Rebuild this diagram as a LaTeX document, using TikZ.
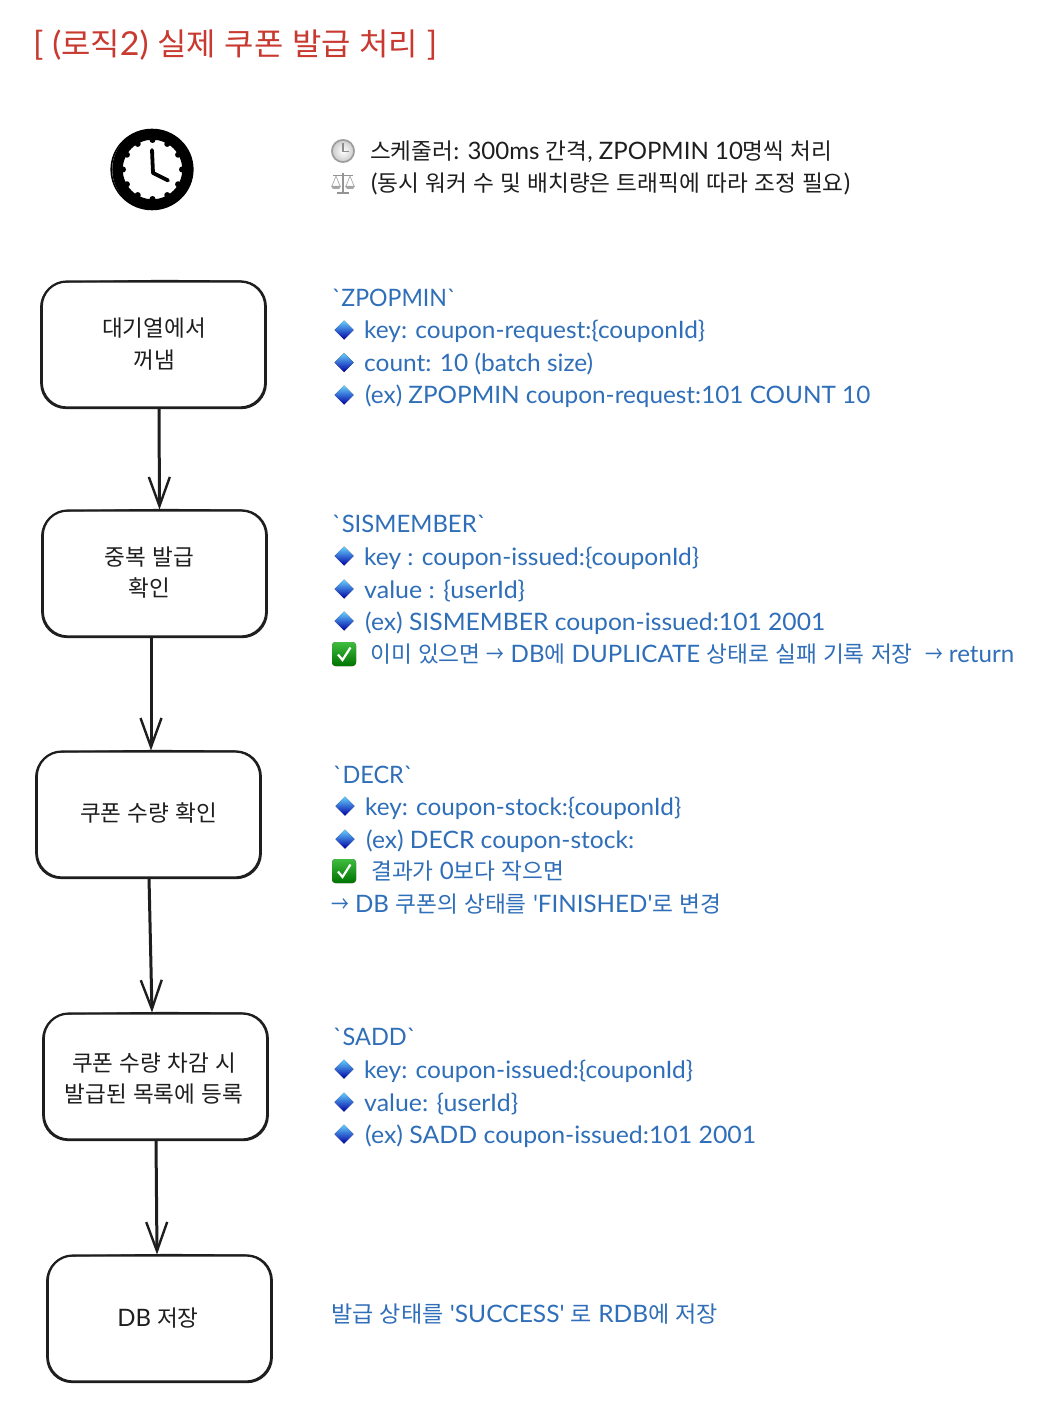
\documentclass[tikz,border=0pt]{standalone}
\usepackage{fontspec}
\usepackage{graphicx}
\usetikzlibrary{arrows.meta,calc}
\newfontfamily\latfont{Lato}
\newfontfamily\krfont{Noto Sans CJK KR}[Scale=0.94]
\XeTeXinterchartokenstate=1
\newXeTeXintercharclass\krclass
\newcount\krc \krc="AC00
\loop \XeTeXcharclass\krc=\krclass \advance\krc by 1 \ifnum\krc<"D7A4 \repeat
\XeTeXcharclass"2192=\krclass
\XeTeXinterchartoks 0 \krclass={\begingroup\krfont}
\XeTeXinterchartoks 4095 \krclass={\begingroup\krfont}
\XeTeXinterchartoks \krclass 0={\endgroup}
\XeTeXinterchartoks \krclass 4095={\endgroup}
\definecolor{ink}{HTML}{1E1E1E}
\definecolor{txtblue}{HTML}{2F6EB8}
\definecolor{txtred}{HTML}{C8392F}
\tikzset{
  flowbox/.style={draw=ink,line width=2.2pt,rounded corners=25pt,minimum width=223.5pt,minimum height=126pt,outer sep=0pt,inner sep=0pt},
  rough/.style={draw=ink,line width=1.2pt,rounded corners=25pt},
  flowtext/.style={text=ink,font=\latfont\fontsize{24}{24}\selectfont,anchor=base,inner sep=0pt},
  desc/.style={text=txtblue,font=\latfont\fontsize{24}{24}\selectfont,anchor=base west,inner sep=0pt,yshift=0.5pt},
  darkdesc/.style={desc,text=ink},
  flowarrow/.style={draw=ink,line width=3pt,-{Straight Barb[length=29pt,width=21pt,line width=2.4pt]}}
}
\newcommand{\tline}[6][desc]{\node[#1] (#2) at (#3,#4) {\resizebox{#5pt}{\height}{#6}};}
\newcommand{\sarrow}{\scalebox{.78}[1]{→}}
\newcommand{\sketchbox}[3]{%
  \node[flowbox] (#1) at (#2,#3) {};
  \draw[rough]
    ($(#1.north west)+(-1.1,0.9)$) --
    ($(#1.north)+(0,-1.1)$) --
    ($(#1.north east)+(0.9,-0.2)$) --
    ($(#1.east)+(1.2,0)$) --
    ($(#1.south east)+(0.9,1.1)$) --
    ($(#1.south)+(-10,1.1)$) --
    ($(#1.south west)+(-0.9,0.9)$) --
    ($(#1.west)+(-1.1,-8)$) -- cycle;}
\newcommand{\gemmark}[2]{%
  \fill[top color=blue!30!cyan!60!white,bottom color=blue!65!black] (#1-9.5,#2) -- (#1,#2-9.5) -- (#1+9.5,#2) -- (#1,#2+9.5) -- cycle;}
\newcommand{\okmark}[2]{%
  \fill[rounded corners=3.5pt,top color=green!65!black!75!white,bottom color=green!45!black] (#1-12,#2-12) rectangle (#1+12,#2+12);
  \draw[white,line width=2.2pt] (#1-6,#2+0.5) -- (#1-1.5,#2+6) -- (#1+6.5,#2-6.5);}
\begin{document}
\begin{tikzpicture}[x=1pt,y=-1pt]
\useasboundingbox (0,0) rectangle (1038,1404);
\fill[white] (0,0) rectangle (1038,1404);

\tline[desc,text=txtred]{title}{33}{56.5}{404}{\fontsize{33}{33}\selectfont [ (로직2) 실제 쿠폰 발급 처리 ]}

% large clock
\draw[black,line width=10.5pt] (152.5,169.5) circle (35);
\draw[black,line width=1.6pt] (152,169.5) ellipse (40.8 and 40);
\foreach \a in {0,30,...,330} \fill[black] ($(152.5,169.5)+(\a:29.5)$) circle (3);
\draw[black,line width=3.8pt,line cap=round,line join=round] (152,150) -- (153,173) -- (168,180.5);

% small clock emoji
\shade[inner color=white,outer color=black!22] (343,151) circle (12);
\draw[black!38,line width=1.6pt] (343,151) circle (11);
\draw[black!45,line width=1.1pt] (343,143.5) -- (343,151.5) -- (349,151.5);

% small scales emoji
\draw[black!42,line width=1.1pt] (333,175.5) -- (353,175.5);
\draw[black!42,line width=1.6pt] (343,173) -- (343,193);
\fill[black!42] (337,192.5) rectangle (349,194.5);
\draw[black!38,line width=0.6pt] (336,176) -- (332,186) (336,176) -- (340,186) (350,176) -- (346,186) (350,176) -- (354,186);
\fill[black!35] (331,186) -- (341,186) -- (339,189) -- (333,189) -- cycle;
\fill[black!35] (345,186) -- (355,186) -- (353,189) -- (347,189) -- cycle;

\tline[darkdesc]{sched}{370}{160}{462}{스케줄러: 300ms 간격, ZPOPMIN 10명씩 처리}
\tline[darkdesc]{note}{371}{192}{479}{(동시 워커 수 및 배치량은 트래픽에 따라 조정 필요)}

% boxes
\sketchbox{q}{153.5}{344.5}
\sketchbox{dup}{154.5}{573.5}
\sketchbox{qty}{148.5}{814.5}
\sketchbox{reg}{155.5}{1076.5}
\sketchbox{save}{159.5}{1318.5}

\node[flowtext] (q1) at (154,336.5) {대기열에서};
\node[flowtext] (q2) at (154,368.5) {꺼냄};
\node[flowtext] (d1) at (149.5,565.5) {중복 발급};
\node[flowtext] (d2) at (149.5,596.5) {확인};
\node[flowtext] (c1) at (148.5,821) {쿠폰 수량 확인};
\node[flowtext] (r1) at (154,1071.5) {쿠폰 수량 차감 시};
\node[flowtext] (r2) at (154,1102.5) {발급된 목록에 등록};
\node[flowtext] (s1) at (158,1326) {DB 저장};

% connectors
\draw[flowarrow] ([xshift=5.5pt]q.south) -- ([xshift=5pt,yshift=1pt]dup.north);
\draw[flowarrow] ([xshift=-3.5pt]dup.south) -- ([xshift=2.5pt,yshift=1pt]qty.north);
\draw[flowarrow] ([xshift=0.5pt]qty.south) -- ([xshift=-3.5pt,yshift=1pt]reg.north);
\draw[flowarrow] ([xshift=0.5pt]reg.south) -- ([xshift=-2.5pt,yshift=1pt]save.north);

% ZPOPMIN
\tline{z0}{332}{307}{124}{`ZPOPMIN`}
\gemmark{344}{330}\gemmark{344}{362.5}\gemmark{344}{395}
\tline{z1}{364}{339}{341}{key: coupon-request:\{couponId\}}
\tline{z2}{364}{372}{229}{count: 10 (batch size)}
\tline{z3}{365}{404}{505}{(ex) ZPOPMIN coupon-request:101 COUNT 10}

% SISMEMBER
\tline{s0}{332}{533}{154}{`SISMEMBER`}
\gemmark{344}{556}\gemmark{344}{589}\gemmark{344}{621}
\tline{m1}{364}{566}{335}{key : coupon-issued:\{couponId\}}
\tline{m2}{364}{599}{161}{value : \{userId\}}
\tline{m3}{365}{631}{460}{(ex) SISMEMBER coupon-issued:101 2001}
\okmark{344}{654}
\tline{m4}{370}{663}{644}{이미 있으면 \sarrow{} DB에 DUPLICATE 상태로 실패 기록 저장 \ \sarrow{} return}

% DECR
\tline{d0}{333}{784}{80}{`DECR`}
\gemmark{345}{806}\gemmark{345}{839}
\tline{e1}{365}{816}{316}{key: coupon-stock:\{couponId\}}
\tline{e2}{366}{849}{268}{(ex) DECR coupon-stock:}
\okmark{344}{871}
\tline{e3}{371}{880}{193}{결과가 0보다 작으면}
\tline{e4}{331}{913}{390}{\sarrow{} DB 쿠폰의 상태를 'FINISHED'로 변경}

% SADD
\tline{a0}{333}{1046}{83}{`SADD`}
\gemmark{344}{1069}\gemmark{344}{1102}\gemmark{344}{1134}
\tline{a1}{364}{1079}{329}{key: coupon-issued:\{couponId\}}
\tline{a2}{364}{1112}{154}{value: \{userId\}}
\tline{a3}{365}{1144}{391}{(ex) SADD coupon-issued:101 2001}

\tline{b0}{331}{1323}{387}{발급 상태를 'SUCCESS' 로 RDB에 저장}
\end{tikzpicture}
\end{document}
